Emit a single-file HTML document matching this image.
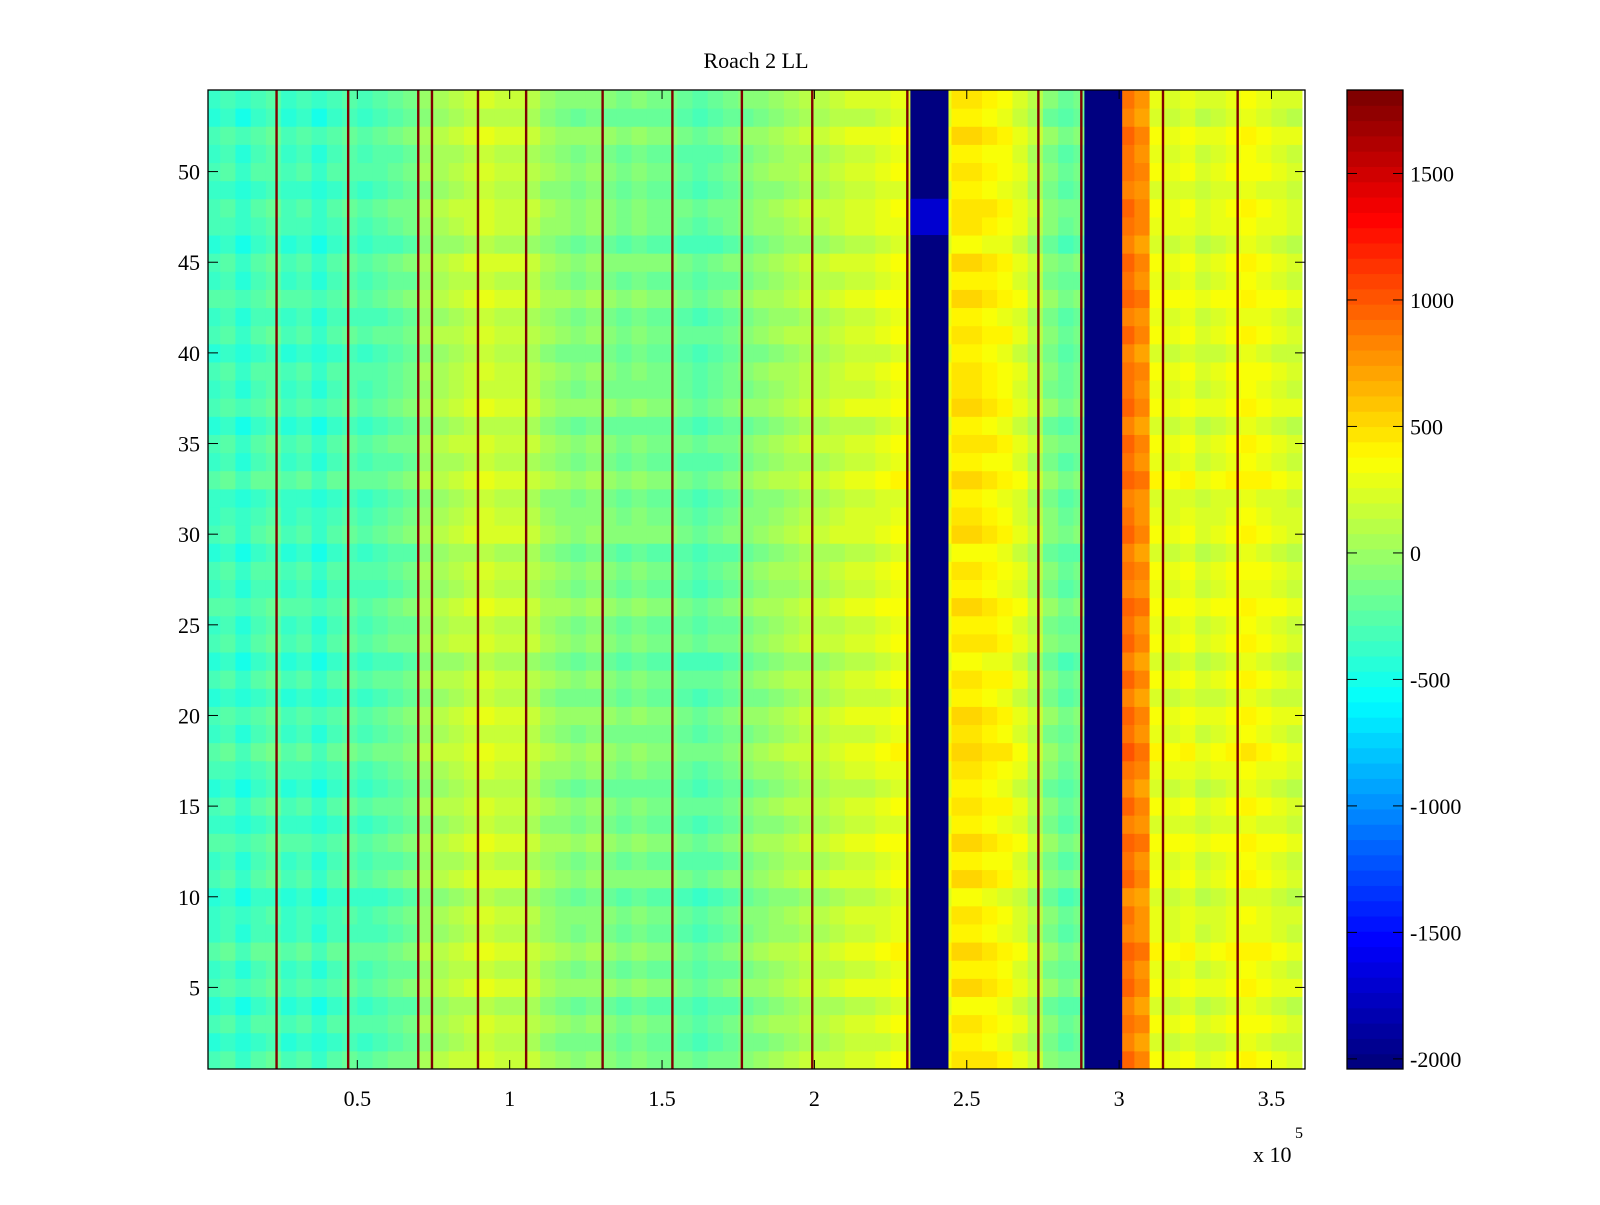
<!DOCTYPE html>
<html><head><meta charset="utf-8"><style>
body{margin:0;background:#fff;}
svg text{font-family:"Liberation Serif",serif;fill:#000;}
</style></head><body>
<svg id="chart" width="1600" height="1200" viewBox="0 0 1600 1200" xmlns="http://www.w3.org/2000/svg">
<rect width="1600" height="1200" fill="#fff"/>
<text x="756" y="68" font-size="22" text-anchor="middle">Roach 2 LL</text>
<g id="cells"></g>
<g id="axes"></g>
<g id="cbar"></g>
</svg>
<script>
// ---- data ----
const binWidth = 5000;
const colMeans = [
-350,-300,-400,-300,-250,-350,-300,-400,-300,-250,
-300,-250,-200,-150,0,50,100,150,200,150,
150,100,0,-50,-100,-50,-100,-150,-100,-150,
-150,-200,-250,-200,-150,-100,-50,0,50,100,
100,150,200,200,250,300,250,300,300,450,
450,400,350,250,100,-100,-200,-150,-100,0,
900,800,300,250,300,200,250,300,350,300,250,200];
const rowOffsets = [
40,-60,20,-80,60,-20,80,-40,0,-100,50,-30,70,-50,30,-70,10,90,-10,60,
-60,30,-90,40,-20,70,-40,20,-80,50,0,-50,80,-30,40,-70,60,-10,20,-60,
30,-40,70,-20,50,-90,10,40,-50,20,-30,60,-70,0];
const blocks = [[231500,244000,-2040],[288600,301000,-2040]];
const lightBlock = [231500,244000,46.5,48.5,-1700];
const lines = [23500,47000,70000,74500,89600,105400,130500,153400,176200,199300,230500,273500,287600,314400,338900];
const lineValue = 1830;
const xTicks = [0.5,1,1.5,2,2.5,3,3.5];
const yTicks = [5,10,15,20,25,30,35,40,45,50];
const cTicks = [-2000,-1500,-1000,-500,0,500,1000,1500];

// ---- geometry ----
const PX0=208,PX1=1305,PY0=90,PY1=1069;
const XMIN=1000,XMAX=361000,YMIN=0.5,YMAX=54.5,CMIN=-2040,CMAX=1830;
const CBX0=1347,CBX1=1403;
const sx=v=>PX0+(v-XMIN)/(XMAX-XMIN)*(PX1-PX0);
const sy=v=>PY1-(v-YMIN)/(YMAX-YMIN)*(PY1-PY0);
const cy=v=>PY1-(v-CMIN)/(CMAX-CMIN)*(PY1-PY0);
function jet(t){t=Math.max(0,Math.min(1,t));t=Math.floor(t*63.999)/63;
 const f=x=>Math.round(255*Math.max(0,Math.min(1,1.5-Math.abs(4*t-x))));
 return `rgb(${f(3)},${f(2)},${f(1)})`;}
const col=v=>jet((v-CMIN)/(CMAX-CMIN));
const NS="http://www.w3.org/2000/svg";
function mk(tag,attrs,parent){const e=document.createElementNS(NS,tag);for(const k in attrs)e.setAttribute(k,attrs[k]);parent.appendChild(e);return e;}
const cells=document.getElementById('cells');
for(let i=0;i<colMeans.length;i++){
 const xa=Math.max(XMIN,i*binWidth),xb=(i+1)*binWidth;
 const x0=sx(xa),x1=sx(xb);
 for(let r=0;r<rowOffsets.length;r++){
  const y1=sy(r+0.5),y0=sy(r+1.5);
  const el=mk('rect',{x:x0,y:y0,width:x1-x0+0.5,height:y1-y0+0.5,fill:col(colMeans[i]+rowOffsets[r])},cells);
  
  
 }
}
blocks.forEach(b=>{
 const el=mk('rect',{x:sx(b[0]),y:PY0,width:sx(b[1])-sx(b[0]),height:PY1-PY0,fill:col(b[2])},cells);
 
 
});
{
 const el=mk('rect',{x:sx(lightBlock[0]),y:sy(lightBlock[3]),width:sx(lightBlock[1])-sx(lightBlock[0]),height:sy(lightBlock[2])-sy(lightBlock[3]),fill:col(lightBlock[4])},cells);
 
 
}
lines.forEach(l=>{
 const el=mk('rect',{x:sx(l)-1.2,y:PY0,width:2.4,height:PY1-PY0,fill:col(lineValue)},cells);
 
 
});
const ax=document.getElementById('axes');
mk('rect',{x:PX0,y:PY0,width:PX1-PX0,height:PY1-PY0,fill:'none',stroke:'#000','stroke-width':1.3},ax);
xTicks.forEach(t=>{const x=sx(t*1e5);
 mk('line',{x1:x,x2:x,y1:PY1,y2:PY1-9,stroke:'#000'},ax);
 mk('line',{x1:x,x2:x,y1:PY0,y2:PY0+9,stroke:'#000'},ax);
 const tx=mk('text',{x:x,y:PY1+37,'font-size':22,'text-anchor':'middle'},ax);tx.textContent=t;
 
 
});
yTicks.forEach(t=>{const y=sy(t);
 mk('line',{x1:PX0,x2:PX0+10,y1:y,y2:y,stroke:'#000'},ax);
 mk('line',{x1:PX1,x2:PX1-10,y1:y,y2:y,stroke:'#000'},ax);
 const tx=mk('text',{x:PX0-8,y:y+8,'font-size':22,'text-anchor':'end'},ax);tx.textContent=t;
 
 
});
const ex=mk('text',{x:1253,y:1162,'font-size':22},ax);ex.textContent='x 10';


const ex2=mk('text',{x:1295,y:1138,'font-size':16},ax);ex2.textContent='5';


const cb=document.getElementById('cbar');
for(let k=0;k<64;k++){
 const v0=CMIN+(CMAX-CMIN)*k/64,v1=CMIN+(CMAX-CMIN)*(k+1)/64;
 const el=mk('rect',{x:CBX0,y:cy(v1),width:CBX1-CBX0,height:cy(v0)-cy(v1)+0.5,fill:jet((k+0.5)/64)},cb);
 
 
}
mk('rect',{x:CBX0,y:PY0,width:CBX1-CBX0,height:PY1-PY0,fill:'none',stroke:'#000','stroke-width':1.3},cb);
cTicks.forEach(t=>{const y=cy(t);
 mk('line',{x1:CBX0,x2:CBX0+10,y1:y,y2:y,stroke:'#000'},cb);
 mk('line',{x1:CBX1,x2:CBX1-10,y1:y,y2:y,stroke:'#000'},cb);
 const tx=mk('text',{x:CBX1+7,y:y+8,'font-size':22},cb);tx.textContent=t;
 
 
});
</script>
</body></html>
